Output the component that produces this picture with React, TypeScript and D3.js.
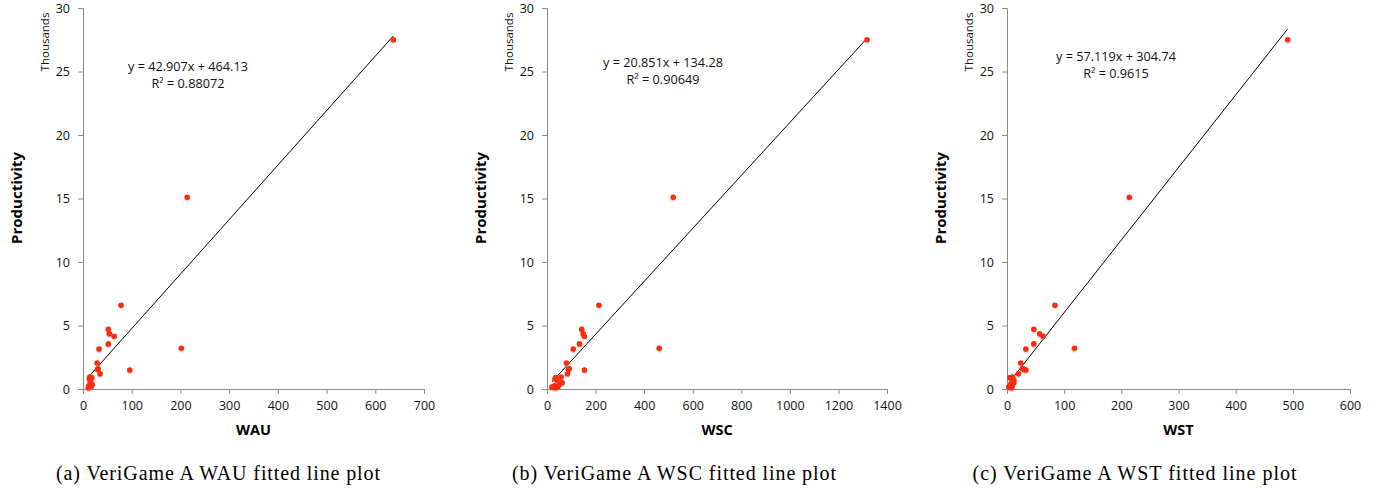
import React, { useEffect, useRef } from 'react';
import * as d3 from 'd3';

const W = 1383;
const H = 490;

// productivity per game (raw units, axis shows thousands)
const productivity = [27500, 15100, 6600, 4700, 4350, 4150, 3550, 3150, 3200, 2050, 1600, 1500, 1550, 1200, 950, 900, 800, 700, 500, 350, 250, 150, 100, 200];
const wau = [637, 214, 78, 52, 54, 64, 52, 33, 202, 29, 31, 96, 30, 35, 14, 18, 13, 16, 15, 19, 12, 13, 11, 17];
const wsc = [1318, 520, 214, 143, 149, 154, 134, 108, 462, 80, 92, 154, 88, 84, 58, 36, 33, 40, 62, 50, 30, 20, 35, 45];
const wst = [491, 214, 84, 47, 57, 63, 47, 33, 118, 24, 27, 33, 30, 20, 10, 5, 8, 12, 12, 7, 5, 3, 8, 9];

const panelNames = ['WAU', 'WSC', 'WST'];
const panelX = [wau, wsc, wst];
const xMax = [700, 1400, 600];
const xTickStep = [100, 200, 100];
const slopes = [42.907, 20.851, 57.119];
const intercepts = [464.13, 134.28, 304.74];
const rSquared = ['0.88072', '0.90649', '0.9615'];
const captions = ['(a) VeriGame A WAU fitted line plot', '(b) VeriGame A WSC fitted line plot', '(c) VeriGame A WST fitted line plot'];
const yTicks = [0, 5, 10, 15, 20, 25, 30];

// layout of each panel on the page
const frames = [
  { left: 83, right: 424, eqX: 188, eqY: 71, capX: 218 },
  { left: 547, right: 887, eqX: 663, eqY: 67, capX: 674 },
  { left: 1007, right: 1350, eqX: 1116, eqY: 61, capX: 1134.5 },
];
const top = 8;
const bottom = 389;
const font = 'Open Sans, sans-serif';
const axisColor = '#8c8c8c';

export default function App() {
  const ref = useRef<SVGSVGElement>(null);

  useEffect(() => {
    const svg = d3.select(ref.current);
    svg.selectAll('*').remove();

    frames.forEach((f, p) => {
      const x = d3.scaleLinear().domain([0, xMax[p]]).range([f.left, f.right]);
      const y = d3.scaleLinear().domain([0, 30]).range([bottom, top]);
      const g = svg.append('g');

      // y axis
      g.append('g')
        .attr('transform', `translate(${f.left},0)`)
        .call(d3.axisLeft(y).tickValues(yTicks).tickSize(5).tickPadding(8).tickFormat(d3.format('d')))
        .call(a => a.selectAll('.domain, .tick line').attr('stroke', axisColor))
        .call(a => a.selectAll('text').attr('font-family', font).attr('font-size', 12.5).attr('fill', '#111'));

      // x axis
      g.append('g')
        .attr('transform', `translate(0,${bottom})`)
        .call(d3.axisBottom(x).tickValues(d3.range(0, xMax[p] + 1, xTickStep[p])).tickSize(5).tickPadding(7).tickFormat(d3.format('d')))
        .call(a => a.selectAll('.domain, .tick line').attr('stroke', axisColor))
        .call(a => a.selectAll('text').attr('font-family', font).attr('font-size', 12.5).attr('fill', '#111'));

      // fitted line
      const xs = panelX[p];
      const lo = d3.min(xs)!;
      const hi = d3.max(xs)!;
      const fit = (v: number) => (slopes[p] * v + intercepts[p]) / 1000;
      g.append('path')
        .attr('d', d3.line()([[x(lo), y(fit(lo))], [x(hi), y(fit(hi))]]))
        .attr('stroke', '#000')
        .attr('stroke-width', 1)
        .attr('fill', 'none');

      // points with a soft shadow
      const pts = g.append('g');
      pts.selectAll('circle.shadow')
        .data(xs)
        .join('circle')
        .attr('class', 'shadow')
        .attr('cx', d => x(d))
        .attr('cy', (d, i) => y(productivity[i] / 1000) + 1.5)
        .attr('r', 2.8)
        .attr('fill', '#999')
        .attr('opacity', 0.35);
      pts.selectAll('circle.dot')
        .data(xs)
        .join('circle')
        .attr('class', 'dot')
        .attr('cx', d => x(d))
        .attr('cy', (d, i) => y(productivity[i] / 1000))
        .attr('r', 2.8)
        .attr('fill', '#fa2d0c');

      // equation
      const eq = g.append('text')
        .attr('font-family', font)
        .attr('font-size', 12.7)
        .attr('text-anchor', 'middle')
        .attr('fill', '#111');
      eq.append('tspan').attr('x', f.eqX).attr('y', f.eqY).text(`y = ${slopes[p]}x + ${intercepts[p]}`);
      eq.append('tspan').attr('x', f.eqX).attr('y', f.eqY + 17).text(`R² = ${rSquared[p]}`);

      // Thousands
      g.append('text')
        .attr('transform', `translate(${f.left - 34},42) rotate(-90)`)
        .attr('text-anchor', 'middle')
        .attr('font-family', font)
        .attr('font-size', 11.5)
        .attr('fill', '#111')
        .text('Thousands');

      // y title
      g.append('text')
        .attr('transform', `translate(${f.left - 61},198) rotate(-90)`)
        .attr('text-anchor', 'middle')
        .attr('font-family', font)
        .attr('font-weight', 'bold')
        .attr('font-size', 15)
        .attr('fill', '#000')
        .text('Productivity');

      // x title
      g.append('text')
        .attr('x', (f.left + f.right) / 2)
        .attr('y', 435)
        .attr('text-anchor', 'middle')
        .attr('font-family', font)
        .attr('font-weight', 'bold')
        .attr('font-size', 14.5)
        .attr('fill', '#000')
        .text(panelNames[p]);

      // caption
      g.append('text')
        .attr('x', f.capX)
        .attr('y', 480)
        .attr('text-anchor', 'middle')
        .attr('font-family', 'Liberation Serif, Times New Roman, serif')
        .attr('font-size', 20)
        .attr('textLength', 324)
        .attr('lengthAdjust', 'spacing')
        .attr('fill', '#000')
        .text(captions[p]);
    });
  }, []);

  return (
    <svg ref={ref} width={W} height={H} style={{ position: 'absolute', left: 0, top: 0, background: '#fff' }} />
  );
}
